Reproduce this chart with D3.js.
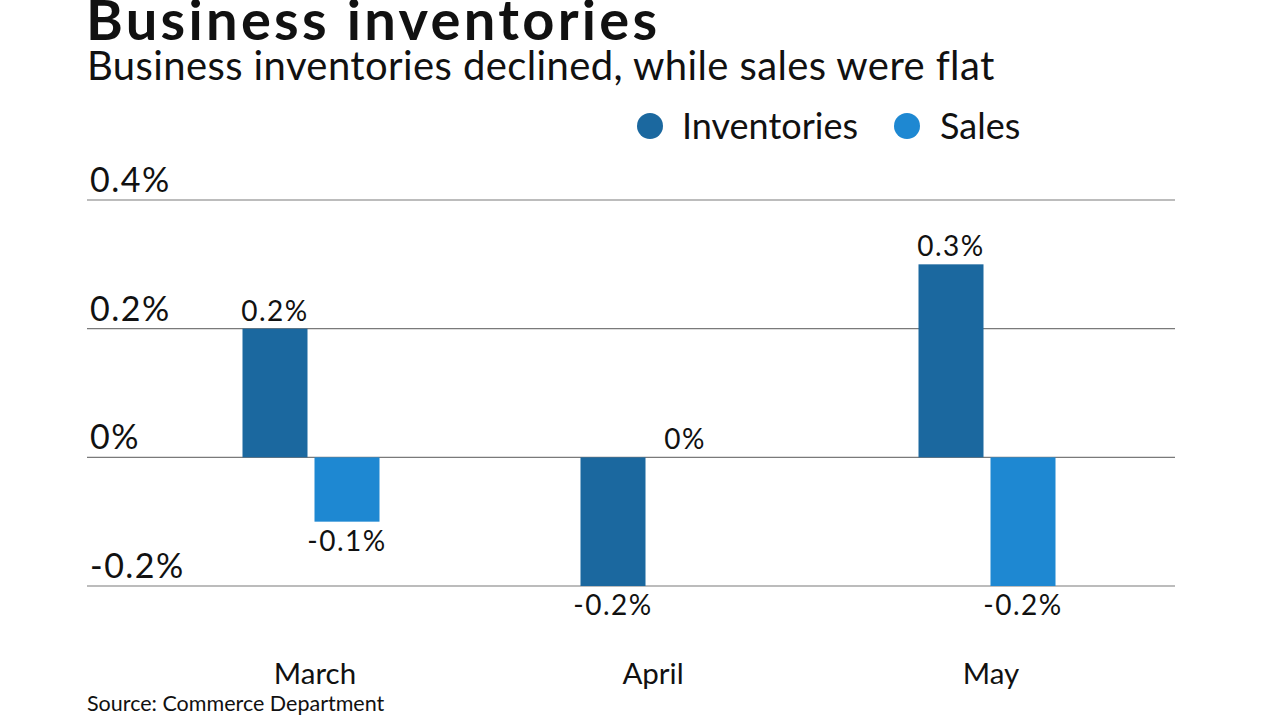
<!DOCTYPE html>
<html><head><meta charset="utf-8">
<script src="https://cdn.jsdelivr.net/npm/d3@7"></script>
<style>body{margin:0;background:#fff}svg{display:block}text{font-family:Lato,"Noto Sans",sans-serif;fill:#111}</style>
</head><body><svg id="c" width="1280" height="720"></svg>
<script>
const categories = ["March", "April", "May"];
const seriesNames = ["Inventories", "Sales"];
const inventories = [0.2, -0.2, 0.3];
const sales = [-0.1, 0, -0.2];
const yTicks = [-0.2, 0, 0.2, 0.4];
const colors = ["#1b689f", "#1e88d2"];

const svg = d3.select("#c");
const y = d3.scaleLinear().domain([-0.2, 0.4]).range([586, 200]);
const x0 = d3.scaleBand().domain(categories).range([142, 1156]).paddingInner(0).paddingOuter(0);
const x1 = d3.scaleBand().domain(seriesNames).range([0, 137]).paddingInner(7/72);
const fmt = v => (v === 0 ? "0" : d3.format(".1f")(v).replace("\u2212", "-")) + "%";

svg.append("text").attr("x", 86).attr("y", 40).attr("font-size", 56).attr("font-weight", 700)
  .attr("letter-spacing", 3.3).text("Business inventories");
svg.append("text").attr("x", 87).attr("y", 80).attr("font-size", 40).attr("letter-spacing", 0.4)
  .text("Business inventories declined, while sales were flat");

// legend
const lg = svg.append("g");
[[650, 682], [907, 940]].forEach((p, i) => {
  lg.append("circle").attr("cx", p[0]).attr("cy", 126).attr("r", 13).attr("fill", colors[i]);
  lg.append("text").attr("x", p[1]).attr("y", 139).attr("font-size", 36).text(seriesNames[i]);
});

// grid
const ga = svg.append("g");
ga.selectAll("line").data(yTicks).join("line")
  .attr("x1", 87).attr("x2", 1175).attr("y1", d => y(d)).attr("y2", d => y(d))
  .attr("stroke", "#7a7a7a").attr("stroke-width", 1.2);
ga.selectAll("text").data(yTicks).join("text")
  .attr("x", 90).attr("y", d => y(d) - 8).attr("font-size", 34).attr("letter-spacing", 1.5).text(fmt);

const data = categories.map((c, i) => ({cat: c, vals: [
  {s: "Inventories", v: inventories[i], c: colors[0]},
  {s: "Sales", v: sales[i], c: colors[1]}]}));

const g = svg.selectAll("g.grp").data(data).join("g").attr("class", "grp")
  .attr("transform", d => `translate(${x0(d.cat) + x0.bandwidth()/2 - 68.5},0)`);
g.selectAll("rect").data(d => d.vals).join("rect")
  .attr("x", d => x1(d.s)).attr("width", x1.bandwidth())
  .attr("y", d => y(Math.max(0, d.v))).attr("height", d => Math.abs(y(d.v) - y(0)))
  .attr("fill", d => d.c);
g.selectAll("text.val").data(d => d.vals).join("text").attr("class", "val")
  .attr("x", d => x1(d.s) + x1.bandwidth()/2)
  .attr("y", d => d.v >= 0 ? y(d.v) - 8 : y(d.v) + 29)
  .attr("text-anchor", "middle").attr("font-size", 28).attr("letter-spacing", 1.5).text(d => fmt(d.v));

svg.selectAll("text.cat").data(categories).join("text").attr("class", "cat")
  .attr("x", d => x0(d) + x0.bandwidth()/2 + 4).attr("y", 684)
  .attr("text-anchor", "middle").attr("font-size", 29.5).text(d => d);

svg.append("text").attr("x", 87).attr("y", 711).attr("font-size", 21.5).text("Source: Commerce Department");
</script></body></html>
